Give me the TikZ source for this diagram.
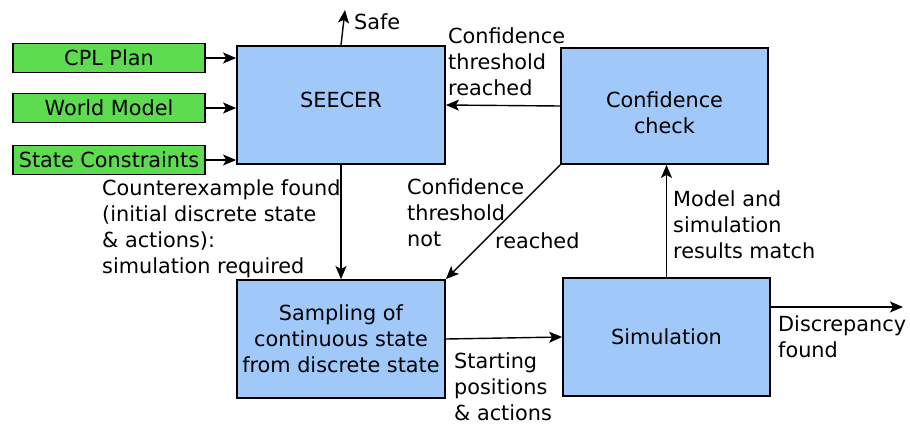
\documentclass[tikz,border=0pt]{standalone}
\usepackage{fontspec}
\setmainfont{DejaVu Sans}
\usetikzlibrary{arrows.meta}
\definecolor{boxblue}{RGB}{160,201,250}
\definecolor{inputgreen}{RGB}{93,220,80}
\begin{document}
\begin{tikzpicture}[x=1pt,y=-1pt,
  every node/.style={font=\fontsize{20.8}{26}\selectfont},
  procbox/.style={draw=black,line width=1.8pt,fill=boxblue,minimum width=208pt,minimum height=118pt,align=center,inner sep=0pt},
  inbox/.style={draw=black,line width=1.8pt,fill=inputgreen,minimum width=192pt,minimum height=29pt,inner sep=0pt},
  boxtext/.style={align=center,inner sep=0pt},
  lbl/.style={anchor=north west,align=left,inner sep=0pt},
  flow/.style={line width=1.4pt,-{Stealth[length=13pt,width=11pt,inset=3pt]}}]
\useasboundingbox (0,0) rectangle (910,424);

% processing stages
\node[procbox,label={[boxtext,yshift=5pt]center:SEECER}] (seecer) at (341,105) {};
\node[procbox,minimum width=207pt,minimum height=116pt,
      label={[boxtext,yshift=-7pt]center:{Confidence\\check}}] (conf) at (664.5,106) {};
\node[procbox] (samp) at (341,339) {Sampling of\\continuous state\\from discrete state};
\node[procbox,minimum width=207pt] (sim) at (666.5,337) {Simulation};

% inputs
\node[inbox] (cpl) at (109,58) {CPL Plan};
\node[inbox] (world) at (109,108) {World Model};
\node[inbox] (constr) at (109,160) {State Constraints};

% free ends
\coordinate (safe) at (345,10);
\coordinate (disc) at (903,307);

% connectors
\draw[flow] (cpl) -- (cpl -| seecer.west);
\draw[flow] (world) -- (world -| seecer.west);
\draw[flow] (constr) -- (constr -| seecer.west);
\draw[flow] (seecer.north) -- (safe);
\draw[flow] (conf.west) -- (seecer.east);
\draw[flow] (seecer.south) -- (samp.north);
\draw[flow] (conf.south west) -- (samp.north east);
\draw[flow] (samp.east) -- (sim.west);
\draw[flow] (sim.north) -- (sim.north |- conf.south);
\draw[flow] (sim.east |- disc) -- (disc);

% connector labels
\node[lbl] (lsafe) at (354,13) {Safe};
\node[lbl] (lreach) at (448,27) {Confidence\\threshold\\reached};
\node[lbl] (lcex) at (102,179) {Counterexample found\\(initial discrete state\\\& actions):\\simulation required};
\node[lbl] (lnot) at (407,178) {Confidence\\threshold\\not};
\node[lbl] (lnotr) at (495,232) {reached};
\node[lbl] (lmatch) at (673,190) {Model and\\simulation\\results match};
\node[lbl] (lstart) at (454,352) {Starting\\positions\\\& actions};
\node[lbl] (ldisc) at (778,315) {Discrepancy\\found};
\end{tikzpicture}
\end{document}
